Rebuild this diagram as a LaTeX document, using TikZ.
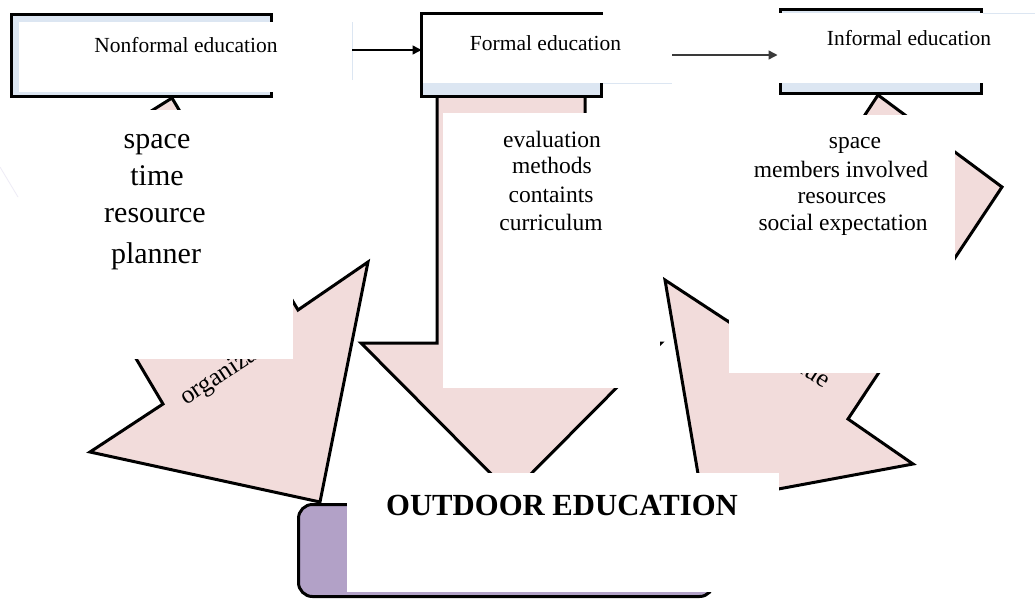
\documentclass[tikz,border=0pt]{standalone}
\usepackage{fontspec}
\setmainfont{Liberation Serif}
\usetikzlibrary{arrows.meta}
\definecolor{pinkfill}{HTML}{F2DCDB}
\definecolor{bluefill}{HTML}{DCE6F2}
\definecolor{purplefill}{HTML}{B2A1C7}
\definecolor{ghostblue}{HTML}{DCE6F2}
\definecolor{ghostlav}{HTML}{EEECF6}
\definecolor{darkline}{HTML}{3A3A3A}

\begin{document}
\begin{tikzpicture}[x=1pt,y=-1pt,
  blockarrow/.style={draw=black, line width=3pt, fill=pinkfill, line join=miter, miter limit=12},
  framebox/.style={draw=black, line width=3pt, fill=bluefill, inner sep=0pt, outer sep=0pt},
  outdoorbox/.style={draw=black, line width=3pt, fill=purplefill, rounded corners=14pt, inner sep=0pt, outer sep=0pt},
  cover/.style={fill=white, draw=none, inner sep=0pt, outer sep=0pt, anchor=north west},
  title/.style={font=\fontsize{21.5}{24}\selectfont, inner sep=0pt, anchor=base},
  listtxt/.style={font=\fontsize{23.5}{26}\selectfont, inner sep=0pt, anchor=base},
  bigtxt/.style={font=\fontsize{30}{34}\selectfont, inner sep=0pt, anchor=base},
  rottxt/.style={font=\fontsize{25.5}{30}\selectfont, inner sep=0pt},
  conn/.style={line width=1.4pt, -{Triangle[length=9pt,width=9pt]}},
  faint/.style={line width=1pt, draw=ghostblue}
]
\useasboundingbox (0,0) rectangle (1035,600);

% block arrows between the three kinds of education and outdoor education
\draw[blockarrow] (320,502) -- (368,262) -- (298,310) -- (172,98) -- (33,185)
                  -- (163,404) -- (90,452) -- cycle;
\draw[blockarrow] (437,92) -- (437,343) -- (361,343) -- (511,494) -- (661,343)
                  -- (585,343) -- (585,92) -- cycle;
\draw[blockarrow] (703,503) -- (665,280) -- (729,322) -- (878,95) -- (1002,187)
                  -- (848,419) -- (913,464) -- cycle;

% labels along the side arrows
\node[rottxt, rotate=33, anchor=base west] (orgtxt) at (186,406) {organization};
\node[rottxt, rotate=-33, anchor=base east] (valtxt) at (824,389) {value};

% text panels laid over the arrows
\node[cover, minimum width=293pt, minimum height=249pt] (leftpanel) at (0,110) {};
\node[cover, minimum width=217pt, minimum height=275pt] (midpanel) at (443,113) {};
\node[cover, minimum width=226pt, minimum height=258pt] (rightpanel) at (729,115) {};
\draw[line width=0.8pt, draw=ghostlav] (0,167) -- (18,197);

% the three education boxes
\node[framebox, minimum width=260pt, minimum height=82pt] (nonformal) at (141.5,55.5) {};
\node[framebox, minimum width=180pt, minimum height=83pt] (formal) at (511.5,55) {};
\node[framebox, minimum width=201pt, minimum height=84pt] (informal) at (881,51.5) {};

\node[cover, minimum width=257pt, minimum height=70pt] (nonformalpanel) at (19,22) {};
\node[cover, minimum width=249.5pt, minimum height=68pt] (formalpanel) at (422.5,15) {};
\node[cover, minimum width=258pt, minimum height=70pt] (informalpanel) at (777,13) {};
\draw[faint] (352,22) -- (352,80);
\draw[faint] (603,83) -- (672,83);
\draw[faint] (983,13) -- (1035,13);

\node[title] (nonformaltxt) at (186,52) {Nonformal education};
\node[title] (formaltxt) at (545.5,50) {Formal education};
\node[title] (informaltxt) at (909,45) {Informal education};

% connectors between the boxes
\coordinate (c1) at (352,50);
\draw[conn, draw=black] (c1) -- (c1 -| formal.west);
\coordinate (c2) at (672,55);
\draw[conn, draw=darkline, shorten >=3pt] (c2) -- (c2 -| informal.west);

% lists of features
\node[bigtxt] (l1) at (157,148) {space};
\node[bigtxt] (l2) at (157,185) {time};
\node[bigtxt] (l3) at (155,222) {resource};
\node[bigtxt] (l4) at (156,263) {planner};

\node[listtxt] (m1) at (552,147) {evaluation};
\node[listtxt] (m2) at (552,173) {methods};
\node[listtxt] (m3) at (551,202) {containts};
\node[listtxt] (m4) at (551,230) {curriculum};

\node[listtxt] (r1) at (855,148) {space};
\node[listtxt] (r2) at (841,177) {members involved};
\node[listtxt] (r3) at (842,203) {resources};
\node[listtxt] (r4) at (843,230) {social expectation};

% outdoor education box
\node[outdoorbox, minimum width=415pt, minimum height=92pt] (outdoor) at (506,550.5) {};
\node[cover, minimum width=432pt, minimum height=119pt] (outdoorpanel) at (347,473) {};
\node[font=\fontsize{30.7}{34}\selectfont\bfseries, inner sep=0pt, anchor=base] (outdoortxt) at (562,515) {OUTDOOR EDUCATION};
\end{tikzpicture}
\end{document}
